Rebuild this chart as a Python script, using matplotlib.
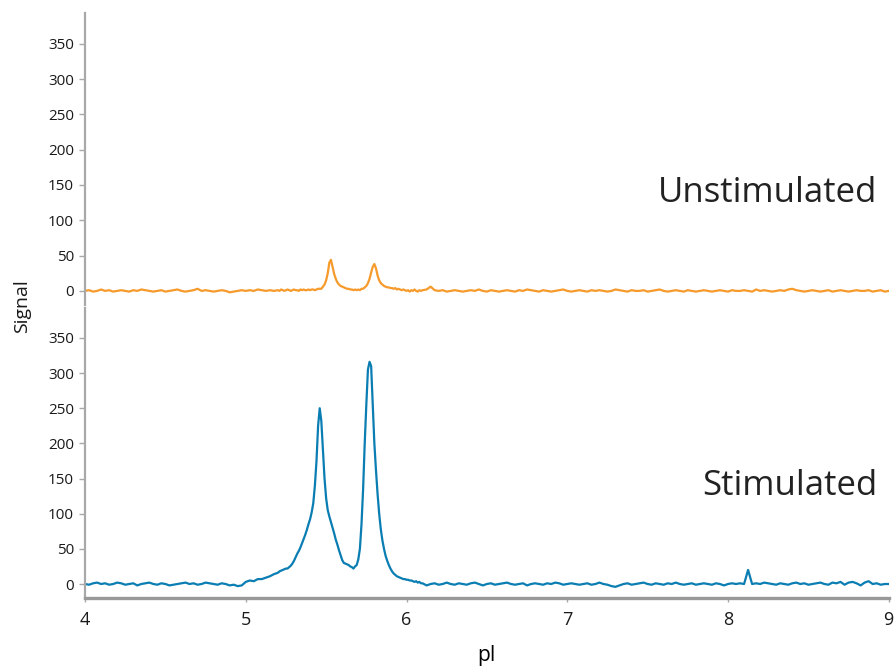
import numpy as np
import matplotlib
matplotlib.use("Agg")
import matplotlib.pyplot as plt
from matplotlib import font_manager

# sampling grid: coarse baseline, fine around the peaks
x_grid = np.r_[np.linspace(4.0, 5.175, 48),
               np.linspace(5.20, 6.09, 90),
               np.linspace(6.10, 9.00, 117)]

unstim = [
    # 4.000 - 5.175
    0, 1, -1, 0, 2, 0, 1, -1, 0, 1,
    0, -1, 1, 0, 2, 1, 0, -1, 0, 1,
    -1, 0, 1, 2, 0, -1, 0, 1, 3, 0,
    1, 0, -1, 0, 1, 0, -2, -1, 0, 1,
    0, 1, 0, 2, 1, 0, 1, 0,
    # 5.20 - 6.09
    1, 0, 2, 1, 0, 1, 2, 1, 0, 1,
    2, 1, 1, 0, 2, 1, 2, 1, 1, 2,
    1, 2, 2, 1, 2, 3, 3, 3, 6, 9,
    15, 25, 40, 44, 34, 24, 17, 12, 9, 7,
    6, 5, 4, 3, 3, 2, 2, 1, 2, 1,
    2, 1, 3, 3, 5, 7, 11, 17, 26, 34,
    38, 32, 22, 15, 11, 9, 7, 6, 5, 5,
    4, 4, 3, 4, 2, 3, 2, 1, 2, 1,
    0, 1, -1, 1, 0, 2, 0, -1, 1, 0,
    # 6.100 - 9.000
    1, 2, 6, 1, 0, 1, -1, 0, 1, 0,
    -1, 0, 1, 0, 2, 0, -1, 1, 0, -1,
    0, 1, 0, -1, 1, 0, 2, 1, 0, -1,
    1, 0, -1, 0, 1, 2, 0, -1, 0, 1,
    0, -1, 1, 0, 1, 0, -1, 0, 2, 1,
    0, -1, 1, 0, 0, 1, -1, 0, 1, 2,
    0, -1, 0, 1, 0, -1, 1, 0, -1, 0,
    1, 0, -1, 0, 1, 0, -1, 1, 0, 0,
    1, 0, -1, 2, 0, 1, 0, -1, 0, 1,
    0, 2, 3, 1, 0, -1, 0, 1, 0, -1,
    0, 1, -1, 0, 1, 0, -1, 0, 1, 0,
    0, 1, -1, 0, 1, -1, 0,
]

stim = [
    # 4.000 - 5.175
    0, -1, 1, 2, 0, 1, -1, 0, 2, 1,
    -1, 0, 1, -2, 0, 1, 2, 0, -1, 1,
    0, -2, -1, 0, 1, 2, 0, 1, -1, 0,
    2, 1, 0, -1, 1, 0, -2, -1, -3, -2,
    3, 5, 4, 7, 7, 9, 11, 14,
    # 5.20 - 6.09
    16, 18, 19, 20, 21, 22, 22, 24, 26, 29,
    33, 38, 43, 47, 52, 58, 64, 70, 77, 85,
    92, 102, 115, 140, 175, 225, 250, 232, 190, 150,
    122, 105, 96, 88, 80, 72, 63, 56, 48, 41,
    34, 30, 29, 28, 27, 25, 24, 22, 25, 27,
    35, 50, 85, 135, 200, 255, 305, 316, 310, 255,
    200, 162, 128, 100, 78, 62, 50, 40, 33, 27,
    22, 18, 15, 13, 11, 10, 9, 8, 7, 7,
    6, 6, 5, 5, 4, 3, 4, 2, 3, 1,
    # 6.100 - 9.000
    1, -2, 0, 1, -1, 0, 2, 0, -1, 1,
    0, -1, 1, 2, 0, -2, 0, 1, -1, 0,
    1, 2, 0, -1, 0, 1, -2, 0, 1, 0,
    -1, 1, 0, 2, 1, -1, 0, 1, 0, -1,
    0, 1, -1, 0, 2, 0, -1, -3, -4, -2,
    0, 1, -1, 0, 1, 2, 0, -1, 1, 0,
    -1, 1, 0, 2, 0, -1, 0, 1, -1, 0,
    1, 0, -1, 1, 0, -2, 0, 1, 0, 1,
    0, 20, 0, 1, 0, 2, 1, 0, -1, 1,
    0, -1, 1, 2, 0, 1, -1, 0, 1, 2,
    0, -1, 2, 1, 3, -1, 2, 3, 1, -2,
    2, 4, 0, 1, -1, 0, 0,
]

y_ticks = [0, 50, 100, 150, 200, 250, 300, 350]
x_ticks = [4, 5, 6, 7, 8, 9]

installed = {f.name for f in font_manager.fontManager.ttflist}
tick_font = "Liberation Sans Narrow" if "Liberation Sans Narrow" in installed else "Open Sans"
big_font = "Open Sans"

orange = "#f59a2b"
blue = "#0a7db2"
grey = "#a8a8a8"

fig = plt.figure(figsize=(8.95, 6.66), dpi=100)
ax_top = fig.add_axes([0.095, 0.542, 0.898, 0.438])
ax_bot = fig.add_axes([0.095, 0.102, 0.898, 0.436])

ax_top.plot(x_grid, unstim, color=orange, lw=1.6)
ax_bot.plot(x_grid, stim, color=blue, lw=1.6)

for ax in (ax_top, ax_bot):
    ax.set_xlim(4, 9)
    ax.set_ylim(-20, 393)
    ax.set_yticks(y_ticks)
    ax.set_yticklabels([str(v) for v in y_ticks], fontfamily=tick_font, fontsize=11)
    for s in ("top", "right", "bottom"):
        ax.spines[s].set_visible(False)
    ax.spines["left"].set_color(grey)
    ax.spines["left"].set_linewidth(1.6)
    ax.tick_params(axis="y", colors=grey, labelcolor="#1a1a1a", length=4, width=1, pad=4)

ax_top.set_xticks([])

ax_bot.spines["bottom"].set_visible(True)
ax_bot.spines["bottom"].set_color("#999999")
ax_bot.spines["bottom"].set_linewidth(2.4)
ax_bot.set_xticks(x_ticks)
ax_bot.set_xticklabels([str(v) for v in x_ticks], fontfamily=big_font, fontsize=13)
ax_bot.tick_params(axis="x", colors=grey, labelcolor="#1a1a1a", length=3, width=1, pad=6)
ax_bot.set_xlabel("pI", fontfamily=big_font, fontsize=15, labelpad=12)

ax_top.text(8.93, 138, "Unstimulated", ha="right", va="center",
            fontfamily=big_font, fontsize=25, color="#222222")
ax_bot.text(8.93, 139, "Stimulated", ha="right", va="center",
            fontfamily=big_font, fontsize=25, color="#222222")

fig.text(0.025, 0.54, "Signal", rotation=90, ha="center", va="center",
         fontfamily=big_font, fontsize=14, color="#1a1a1a")

fig.savefig("out.png", dpi=100)
